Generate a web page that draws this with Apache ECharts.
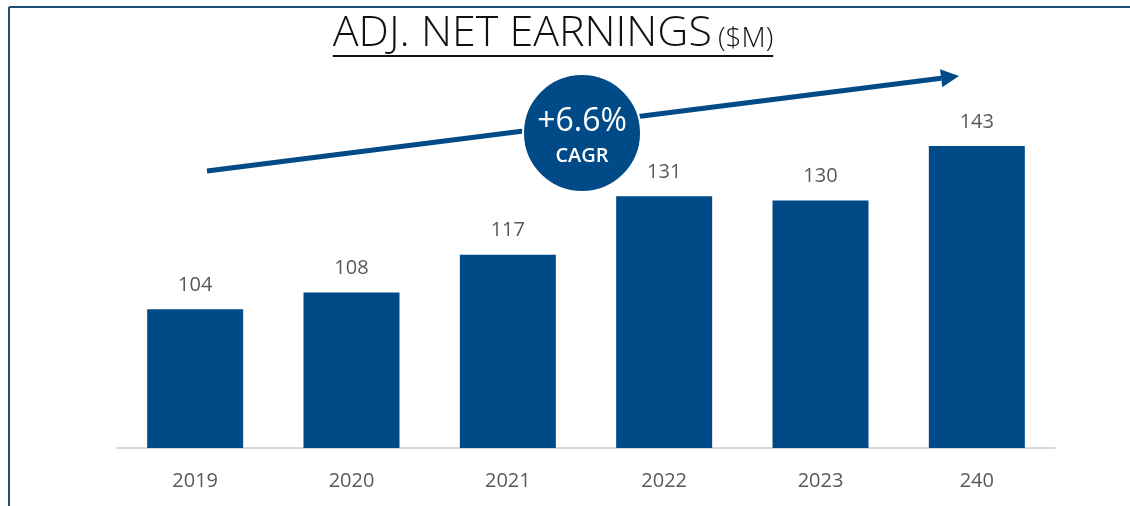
<!DOCTYPE html>
<html lang="en">
<head>
    <meta charset="UTF-8">
    <title>Adj. Net Earnings</title>
    <script src="https://cdn.jsdelivr.net/npm/echarts@6/dist/echarts.min.js"></script>
    <style>
        html, body { margin: 0; padding: 0; background: #fff; }
    </style>
</head>
<body>
<div id="main" style="width: 1130px;height:506px;"></div>
<script>
    // data
    let years = ['2019', '2020', '2021', '2022', '2023', '240']
    let earnings = [104, 108, 117, 131, 130, 143]
    let cagrText = '+6.6%'
    let titleMain = 'ADJ. NET EARNINGS'
    let titleUnit = '($M)'

    let blue = '#004b87'
    let font = '"Open Sans", sans-serif'
    let mainFont = '300 43px "Open Sans"'
    let unitFont = '300 28px "Open Sans"'

    // measure the title so the underline fits it
    let ctx = document.createElement('canvas').getContext('2d')
    ctx.font = mainFont
    let wMain = ctx.measureText(titleMain).width
    ctx.font = unitFont
    let wUnit = ctx.measureText(titleUnit).width
    let gap = 6
    let titleLeft = 553 - (wMain + gap + wUnit) / 2

    // arrow geometry
    let tail = [207, 171], tip = [959, 76]
    let dx = tip[0] - tail[0], dy = tip[1] - tail[1]
    let len = Math.sqrt(dx * dx + dy * dy)
    let ux = dx / len, uy = dy / len
    let headLen = 18, headHalf = 9
    let base = [tip[0] - ux * headLen, tip[1] - uy * headLen]

    var myChart = echarts.init(document.getElementById('main'));

    option = {
        backgroundColor: '#fff',
        animation: false,
        grid: {
            left: 117,
            right: 75,
            top: 146,
            bottom: 58
        },
        xAxis: {
            type: 'category',
            data: years,
            axisLine: {
                lineStyle: { color: '#d9d9d9', width: 2 }
            },
            axisTick: { show: false },
            axisLabel: {
                color: '#595959',
                fontSize: 20,
                fontFamily: font,
                margin: 23
            }
        },
        yAxis: {
            type: 'value',
            min: 70.8,
            max: 143,
            show: false,
            splitLine: { show: false }
        },
        series: [{
            type: 'bar',
            data: earnings,
            barWidth: 96,
            itemStyle: { color: blue },
            label: {
                show: true,
                position: 'top',
                distance: 14,
                color: '#595959',
                fontSize: 20,
                fontFamily: font
            }
        }],
        graphic: [
            // frame
            {
                type: 'line', silent: true,
                shape: { x1: 9, y1: 7, x2: 1130, y2: 7 },
                style: { stroke: '#1f4e79', lineWidth: 2 }
            },
            {
                type: 'line', silent: true,
                shape: { x1: 9, y1: 7, x2: 9, y2: 506 },
                style: { stroke: '#1f4e79', lineWidth: 2 }
            },
            // title
            {
                type: 'text', silent: true,
                x: titleLeft, y: 34,
                style: {
                    text: titleMain,
                    font: mainFont,
                    fill: '#111',
                    verticalAlign: 'middle'
                }
            },
            {
                type: 'text', silent: true,
                x: titleLeft + wMain + gap, y: 39,
                style: {
                    text: titleUnit,
                    font: unitFont,
                    fill: '#111',
                    verticalAlign: 'middle'
                }
            },
            {
                type: 'line', silent: true,
                shape: { x1: titleLeft, y1: 56, x2: titleLeft + wMain + gap + wUnit, y2: 56 },
                style: { stroke: '#111', lineWidth: 2 }
            },
            // growth arrow
            {
                type: 'line', silent: true,
                shape: { x1: tail[0], y1: tail[1], x2: base[0], y2: base[1] },
                style: { stroke: blue, lineWidth: 5 }
            },
            {
                type: 'polygon', silent: true,
                shape: {
                    points: [
                        tip,
                        [base[0] - uy * headHalf, base[1] + ux * headHalf],
                        [base[0] + uy * headHalf, base[1] - ux * headHalf]
                    ]
                },
                style: { fill: blue }
            },
            // CAGR bubble
            {
                type: 'circle', silent: true,
                shape: { cx: 582, cy: 133, r: 59 },
                style: { fill: blue, stroke: '#fff', lineWidth: 2 }
            },
            {
                type: 'text', silent: true,
                x: 582, y: 122,
                style: {
                    text: cagrText,
                    font: '500 32px "Open Sans"',
                    fill: '#fff',
                    align: 'center',
                    verticalAlign: 'middle'
                }
            },
            {
                type: 'text', silent: true,
                x: 582, y: 156,
                style: {
                    text: 'CAGR',
                    font: '600 20px "Open Sans"',
                    fill: '#fff',
                    align: 'center',
                    verticalAlign: 'middle'
                }
            }
        ]
    };

    myChart.setOption(option);
</script>
</body>
</html>
